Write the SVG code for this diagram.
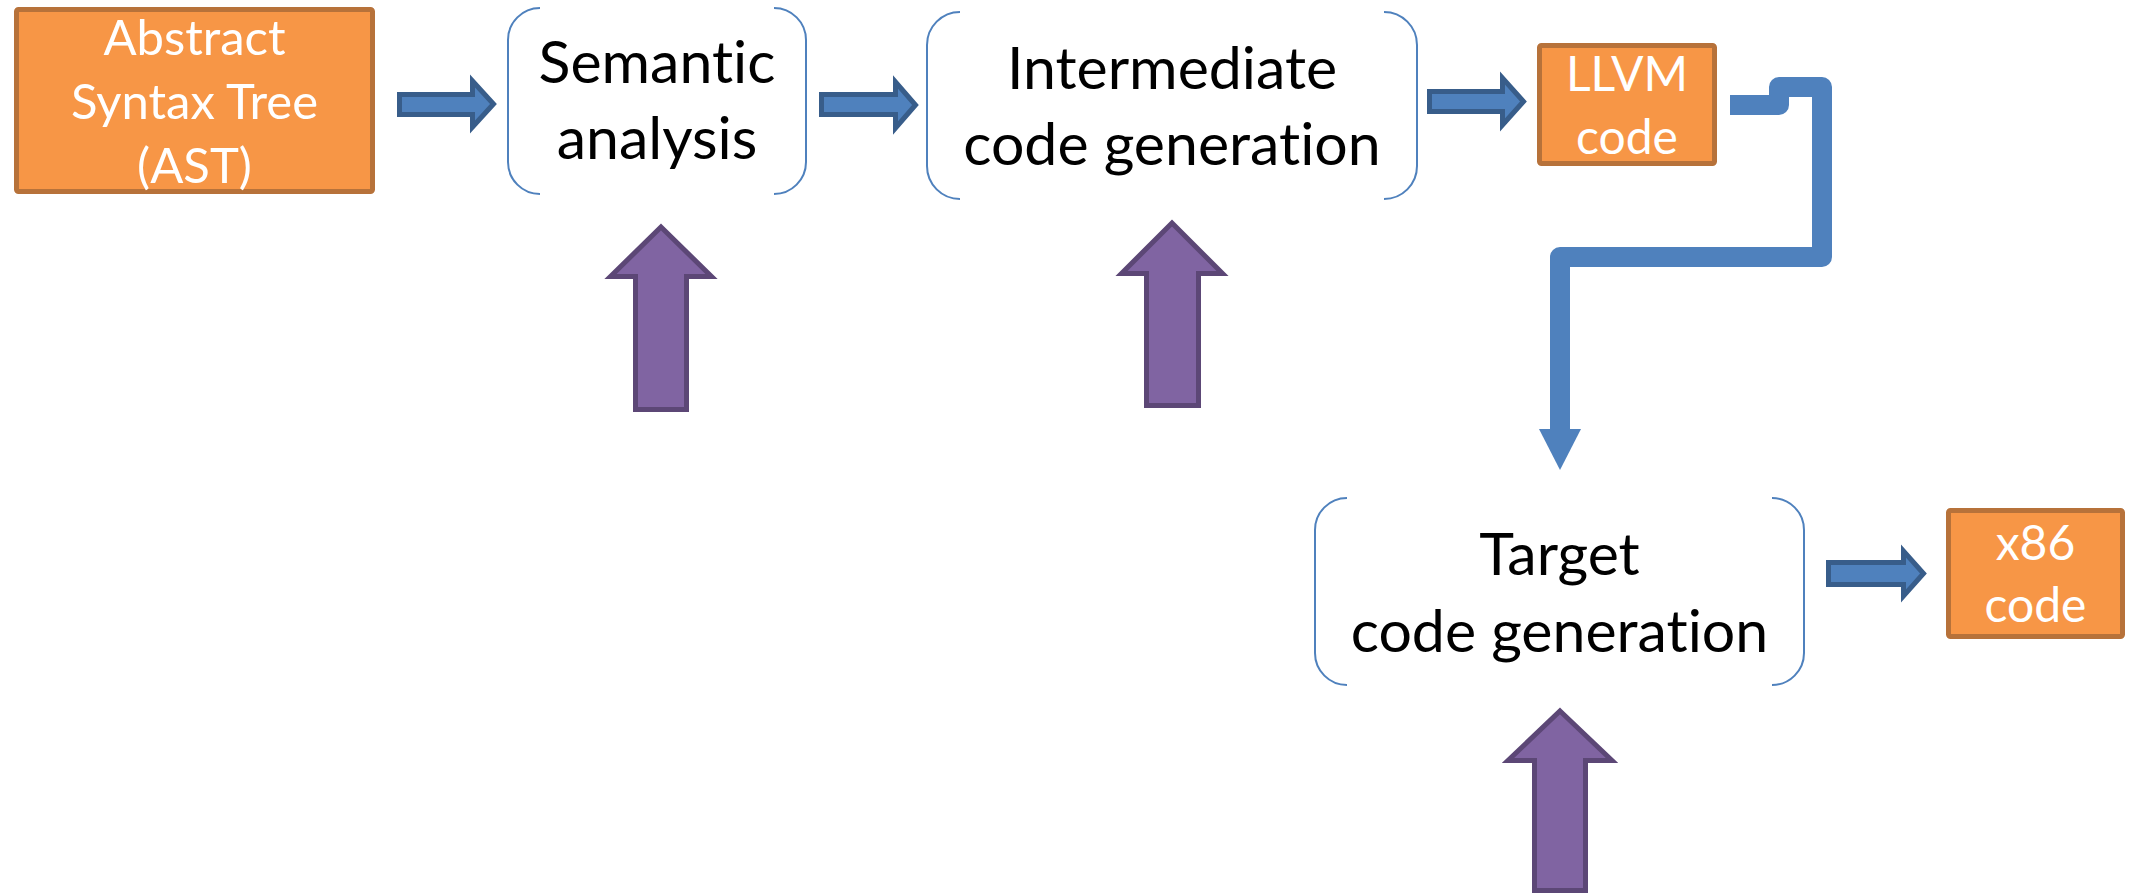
<svg xmlns="http://www.w3.org/2000/svg" width="2134" height="895" viewBox="0 0 2134 895">
  <style>
    text { font-variant-ligatures: none; font-feature-settings: "liga" 0, "dlig" 0; }
    .data rect { fill: #F79646; stroke: #B7723A; stroke-width: 5; }
    .data text { fill: #FFFFFF; font-family: Lato, "Open Sans", sans-serif; text-anchor: middle; }
    .stage path { fill: none; stroke: #4F81BD; stroke-width: 2; }
    .stage text { fill: #000000; font-family: Lato, "Open Sans", sans-serif; font-size: 59px; text-anchor: middle; }
    .flow { fill: #4F81BD; stroke: #385D8A; stroke-width: 5; stroke-linejoin: miter; }
    .input { fill: #8064A2; stroke: #5C4776; stroke-width: 5; stroke-linejoin: miter; }
    .elbow { fill: none; stroke: #4F81BD; stroke-width: 20; stroke-linejoin: round; stroke-linecap: butt; }
  </style>

  <rect width="2134" height="895" fill="#FFFFFF"/>

  <!-- source and output artefacts -->
  <g id="ast" class="data">
    <rect x="16.5" y="9.5" width="356" height="182" rx="2"/>
    <text x="194.5" y="55" font-size="49">Abstract</text>
    <text x="194.5" y="119" font-size="49">Syntax Tree</text>
    <text x="194.5" y="183" font-size="49">(AST)</text>
  </g>

  <g id="llvm" class="data">
    <rect x="1539.5" y="45.5" width="175" height="118" rx="2"/>
    <text x="1627" y="91" font-size="48">LLVM</text>
    <text x="1627" y="154" font-size="48">code</text>
  </g>

  <g id="x86" class="data">
    <rect x="1948.5" y="510.5" width="174" height="126" rx="2"/>
    <text x="2035.5" y="560" font-size="48">x86</text>
    <text x="2035.5" y="622" font-size="48">code</text>
  </g>

  <!-- compiler stages, drawn as bracket pairs -->
  <g id="semantic" class="stage">
    <path d="M540,8 A32,32 0 0 0 508,40 V162 A32,32 0 0 0 540,194"/>
    <path d="M774,8 A32,32 0 0 1 806,40 V162 A32,32 0 0 1 774,194"/>
    <text x="657" y="83">Semantic</text>
    <text x="657" y="159">analysis</text>
  </g>

  <g id="intermediate" class="stage">
    <path d="M960,12 A33,33 0 0 0 927,45 V166 A33,33 0 0 0 960,199"/>
    <path d="M1384,12 A33,33 0 0 1 1417,45 V166 A33,33 0 0 1 1384,199"/>
    <text x="1172" y="89">Intermediate</text>
    <text x="1172" y="165">code generation</text>
  </g>

  <g id="target" class="stage">
    <path d="M1347,498 A32,32 0 0 0 1315,530 V653 A32,32 0 0 0 1347,685"/>
    <path d="M1772,498 A32,32 0 0 1 1804,530 V653 A32,32 0 0 1 1772,685"/>
    <text x="1559.5" y="575">Target</text>
    <text x="1559.5" y="652">code generation</text>
  </g>

  <!-- connectors -->
  <g id="connectors">
    <polygon class="flow" points="399.5,94.5 472.5,94.5 472.5,81 493.5,104 472.5,127 472.5,114.5 399.5,114.5"/>
    <polygon class="flow" points="821.5,94.5 895.5,94.5 895.5,82 915.5,105 895.5,128 895.5,114.5 821.5,114.5"/>
    <polygon class="flow" points="1429.5,91.5 1502.5,91.5 1502.5,78 1523.5,101.5 1502.5,125 1502.5,111.5 1429.5,111.5"/>
    <polygon class="flow" points="1828.5,562.5 1903.5,562.5 1903.5,551 1923.5,573.5 1903.5,596 1903.5,584.5 1828.5,584.5"/>

    <path class="elbow" d="M1730,105 H1779 V87 H1822 V257 H1560 V432"/>
    <polygon fill="#4F81BD" points="1539,429 1581,429 1560,470"/>

    <polygon class="input" points="661,227 711.5,276.5 686.5,276.5 686.5,409.5 635.5,409.5 635.5,276.5 610.5,276.5"/>
    <polygon class="input" points="1172,223 1222.5,273.5 1198.5,273.5 1198.5,405.5 1146.5,405.5 1146.5,273.5 1121.5,273.5"/>
    <polygon class="input" points="1560,711 1612,760.5 1585.5,760.5 1585.5,890.5 1534.5,890.5 1534.5,760.5 1508,760.5"/>
  </g>
</svg>
